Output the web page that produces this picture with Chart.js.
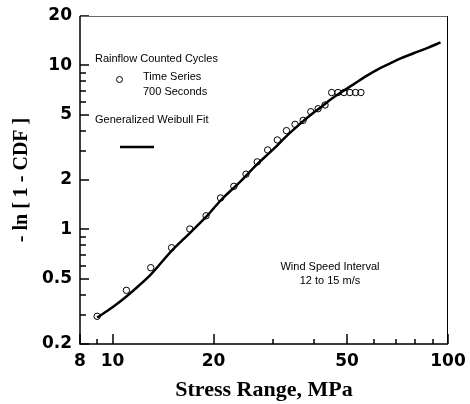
<!DOCTYPE html>
<html>
<head>
<meta charset="utf-8">
<script src="https://cdn.jsdelivr.net/npm/chart.js@4.4.0/dist/chart.umd.min.js"></script>
<style>
  html, body { margin: 0; padding: 0; background: #fff; }
</style>
</head>
<body>
<canvas id="cdf" width="470" height="404"></canvas>
<script>
// rainflow counted cycles, 700 s time series
var stressRange = [9, 11, 13, 15, 17, 19, 21, 23, 25, 27, 29, 31, 33, 35, 37, 39, 41, 43, 45, 47, 49, 51, 53, 55];
var lnCdf = [0.295, 0.425, 0.584, 0.773, 1.005, 1.21, 1.554, 1.83, 2.17, 2.58, 3.05, 3.51, 4.0, 4.37, 4.62, 5.22, 5.44, 5.73, 6.83, 6.83, 6.83, 6.83, 6.83, 6.83];

// generalized weibull fit
var fitStress = [9, 10, 11, 12, 13, 15, 17, 19, 21, 24, 27, 30, 33, 36, 39, 42, 45, 48, 52, 57, 62, 67, 72, 79, 87, 95];
var fitLnCdf = [0.29, 0.335, 0.39, 0.455, 0.53, 0.74, 0.95, 1.19, 1.5, 1.95, 2.5, 3.05, 3.7, 4.35, 5.0, 5.6, 6.25, 6.85, 7.6, 8.6, 9.5, 10.25, 11.0, 11.85, 12.8, 13.8];

// axis ticks
var xTicks = [8, 9, 10, 20, 30, 40, 50, 60, 70, 80, 90, 100];
var xLabels = [8, 10, 20, 50, 100];
var yTicks = [0.2, 0.3, 0.4, 0.5, 0.6, 0.7, 0.8, 0.9, 1, 2, 3, 4, 5, 6, 7, 8, 9, 10, 20];
var yLabels = [0.2, 0.5, 1, 2, 5, 10, 20];

function toPoints(xs, ys) {
    return xs.map(function (v, i) { return { x: v, y: ys[i] }; });
}

// ticks pointing into the plot + frame + notes
var frame = {
    id: 'frame',
    afterDraw: function (chart) {
        var ctx = chart.ctx, a = chart.chartArea;
        var xs = chart.scales.x, ys = chart.scales.y;
        ctx.save();
        ctx.strokeStyle = '#000';
        ctx.lineWidth = 1.5;
        ctx.beginPath();
        xTicks.forEach(function (v) {
            var px = Math.round(xs.getPixelForValue(v));
            var len = xLabels.indexOf(v) >= 0 ? 10 : 5;
            ctx.moveTo(px, a.bottom); ctx.lineTo(px, a.bottom - len);
        });
        yTicks.forEach(function (v) {
            var py = Math.round(ys.getPixelForValue(v));
            var len = yLabels.indexOf(v) >= 0 ? 9 : 6;
            ctx.moveTo(a.left, py); ctx.lineTo(a.left + len, py);
        });
        ctx.stroke();
        // top and right
        ctx.lineWidth = 1;
        ctx.strokeStyle = '#666';
        ctx.beginPath(); ctx.moveTo(a.left, a.top + 0.5); ctx.lineTo(a.right, a.top + 0.5); ctx.stroke();
        ctx.strokeStyle = '#000';
        ctx.beginPath(); ctx.moveTo(a.right - 0.5, a.top); ctx.lineTo(a.right - 0.5, a.bottom); ctx.stroke();
        // left and bottom
        ctx.lineWidth = 1.5;
        ctx.beginPath(); ctx.moveTo(a.left, a.top); ctx.lineTo(a.left, a.bottom); ctx.lineTo(a.right, a.bottom); ctx.stroke();

        // notes
        ctx.fillStyle = '#000';
        ctx.lineWidth = 1;
        ctx.font = '11px "Liberation Sans", Arial, sans-serif';
        ctx.textBaseline = 'middle';
        ctx.textAlign = 'left';
        ctx.fillText('Rainflow Counted Cycles', 95, 59);
        ctx.fillText('Time Series', 143, 77);
        ctx.fillText('700 Seconds', 143, 92);
        ctx.fillText('Generalized Weibull Fit', 95, 120);
        ctx.textAlign = 'center';
        ctx.fillText('Wind Speed Interval', 330, 267);
        ctx.fillText('12 to 15 m/s', 330, 281);
        ctx.beginPath(); ctx.arc(119.5, 79.5, 3, 0, Math.PI * 2); ctx.stroke();
        ctx.lineWidth = 2.5;
        ctx.beginPath(); ctx.moveTo(120, 147); ctx.lineTo(154, 147); ctx.stroke();
        ctx.restore();
    }
};

var tickFont = { family: '"DejaVu Sans", Arial, sans-serif', size: 17, weight: 'bold' };
var titleFont = { family: '"Liberation Serif", "Times New Roman", serif', size: 22, weight: 'bold' };

var chart = new Chart(document.getElementById('cdf'), {
    type: 'scatter',
    data: {
        datasets: [{
            label: 'Generalized Weibull Fit',
            data: toPoints(fitStress, fitLnCdf),
            showLine: true,
            borderColor: '#000',
            borderWidth: 2.5,
            pointRadius: 0,
            cubicInterpolationMode: 'monotone'
        }, {
            label: 'Time Series 700 Seconds',
            data: toPoints(stressRange, lnCdf),
            showLine: false,
            pointStyle: 'circle',
            pointRadius: 3.2,
            borderColor: '#000',
            borderWidth: 1,
            backgroundColor: 'rgba(255,255,255,0)'
        }]
    },
    options: {
        responsive: false,
        animation: false,
        devicePixelRatio: 1,
        layout: { padding: { left: 0, top: 16, right: 22, bottom: 0 } },
        plugins: { legend: { display: false }, tooltip: { enabled: false } },
        scales: {
            x: {
                type: 'logarithmic',
                min: 8,
                max: 100,
                afterBuildTicks: function (s) { s.ticks = xTicks.map(function (v) { return { value: v }; }); },
                afterFit: function (s) { s.height = 60; s.paddingLeft = 0; s.paddingRight = 0; },
                ticks: {
                    autoSkip: false,
                    maxRotation: 0,
                    padding: 7,
                    color: '#000',
                    font: tickFont,
                    callback: function (v) { return xLabels.indexOf(v) >= 0 ? String(v) : ''; }
                },
                grid: { display: false, drawTicks: false },
                border: { display: false },
                title: { display: true, text: 'Stress Range, MPa', color: '#000', font: titleFont, padding: { top: 0, bottom: 0 } }
            },
            y: {
                type: 'logarithmic',
                min: 0.2,
                max: 20,
                afterBuildTicks: function (s) { s.ticks = yTicks.map(function (v) { return { value: v }; }); },
                afterFit: function (s) { s.width = 80; s.paddingTop = 0; s.paddingBottom = 0; },
                ticks: {
                    autoSkip: false,
                    padding: 8,
                    color: '#000',
                    font: tickFont,
                    callback: function (v) { return yLabels.indexOf(v) >= 0 ? String(v) : ''; }
                },
                grid: { display: false, drawTicks: false },
                border: { display: false },
                title: { display: true, text: '- ln [ 1 - CDF ]', color: '#000', font: { family: titleFont.family, size: 20, weight: 'bold' }, padding: { top: 10, bottom: 0 } }
            }
        }
    },
    plugins: [frame]
});
</script>
</body>
</html>
